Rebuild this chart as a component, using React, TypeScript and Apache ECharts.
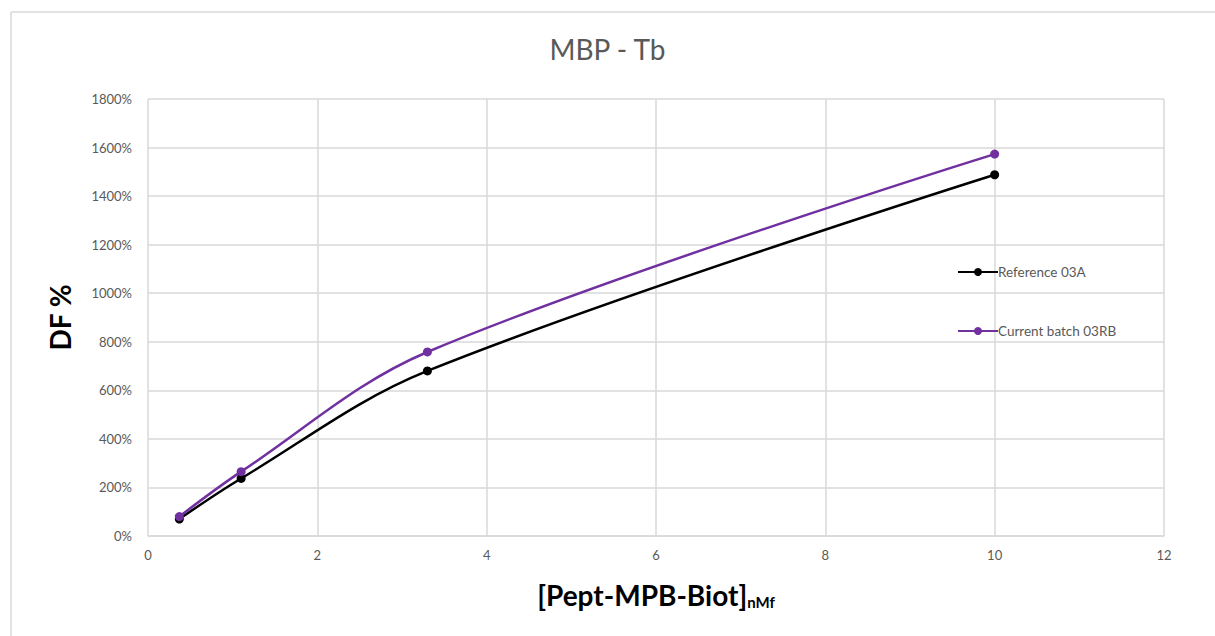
import React, { useEffect, useRef } from "react";
import * as echarts from "echarts";

const xValues = [0.37, 1.1, 3.3, 10];
const referenceValues = [70, 237, 680, 1488];
const currentValues = [80, 265, 758, 1573];
const seriesNames = ["Reference 03A", "Current batch 03RB"];
const titleText = "MBP - Tb";

export default function App() {
  const ref = useRef<HTMLDivElement>(null);
  useEffect(() => {
    const chart = echarts.init(ref.current!, null, { renderer: "svg" });
    const font = "Lato, 'Open Sans', sans-serif";
    chart.setOption({
      animation: false,
      backgroundColor: "#ffffff",
      title: {
        text: titleText,
        left: "center",
        top: 30,
        textStyle: { fontFamily: font, fontSize: 28, fontWeight: "normal", color: "#595959" },
      },
      graphic: [
        { type: "line", shape: { x1: 11, y1: 12, x2: 1215, y2: 12 }, style: { stroke: "#d9d9d9", lineWidth: 1.5 } },
        { type: "line", shape: { x1: 11, y1: 12, x2: 11, y2: 636 }, style: { stroke: "#d9d9d9", lineWidth: 1.5 } },
      ],
      legend: {
        orient: "vertical",
        left: 952,
        top: 260,
        itemGap: 45,
        itemWidth: 40,
        itemHeight: 10,
        textStyle: { fontFamily: font, fontSize: 13.5, color: "#595959", padding: [0, 0, 0, -5] },
        data: seriesNames,
      },
      grid: { left: 148, right: 51, top: 99, bottom: 100, containLabel: false },
      xAxis: {
        type: "value",
        min: 0,
        max: 12,
        interval: 2,
        name: "{main|[Pept-MPB-Biot]}{sub|nMf}",
        nameLocation: "middle",
        nameGap: 44,
        nameTextStyle: {
          rich: {
            main: { fontFamily: font, fontSize: 28, fontWeight: "bold", color: "#000" },
            sub: { fontFamily: font, fontSize: 15, fontWeight: "bold", color: "#000", padding: [14, 0, 0, 0] },
          },
        },
        axisLine: { lineStyle: { color: "#d9d9d9", width: 1.5 } },
        axisTick: { show: false },
        axisLabel: { fontFamily: font, fontSize: 13, color: "#595959", margin: 12 },
        splitLine: { show: true, lineStyle: { color: "#d9d9d9", width: 1.5 } },
      },
      yAxis: {
        type: "value",
        min: 0,
        max: 1800,
        interval: 200,
        name: "DF %",
        nameLocation: "middle",
        nameGap: 74,
        nameTextStyle: { fontFamily: font, fontSize: 28, fontWeight: "bold", color: "#000" },
        axisLine: { show: false },
        axisTick: { show: false },
        axisLabel: {
          fontFamily: font,
          fontSize: 13,
          color: "#595959",
          margin: 16,
          formatter: (v: number) => `${v}%`,
        },
        splitLine: { lineStyle: { color: "#d9d9d9", width: 1.5 } },
      },
      series: [
        {
          name: seriesNames[0],
          type: "line",
          smooth: 0.35,
          symbol: "circle",
          symbolSize: 9,
          data: xValues.map((x, i) => [x, referenceValues[i]]),
          lineStyle: { color: "#000000", width: 2.5 },
          itemStyle: { color: "#000000" },
        },
        {
          name: seriesNames[1],
          type: "line",
          smooth: 0.35,
          symbol: "circle",
          symbolSize: 9,
          data: xValues.map((x, i) => [x, currentValues[i]]),
          lineStyle: { color: "#7030a0", width: 2.5 },
          itemStyle: { color: "#7030a0" },
        },
      ],
    });
    return () => chart.dispose();
  }, []);
  return (
    <div
      ref={ref}
      style={{ position: "fixed", left: 0, top: 0, width: 1215, height: 636 }}
    />
  );
}
